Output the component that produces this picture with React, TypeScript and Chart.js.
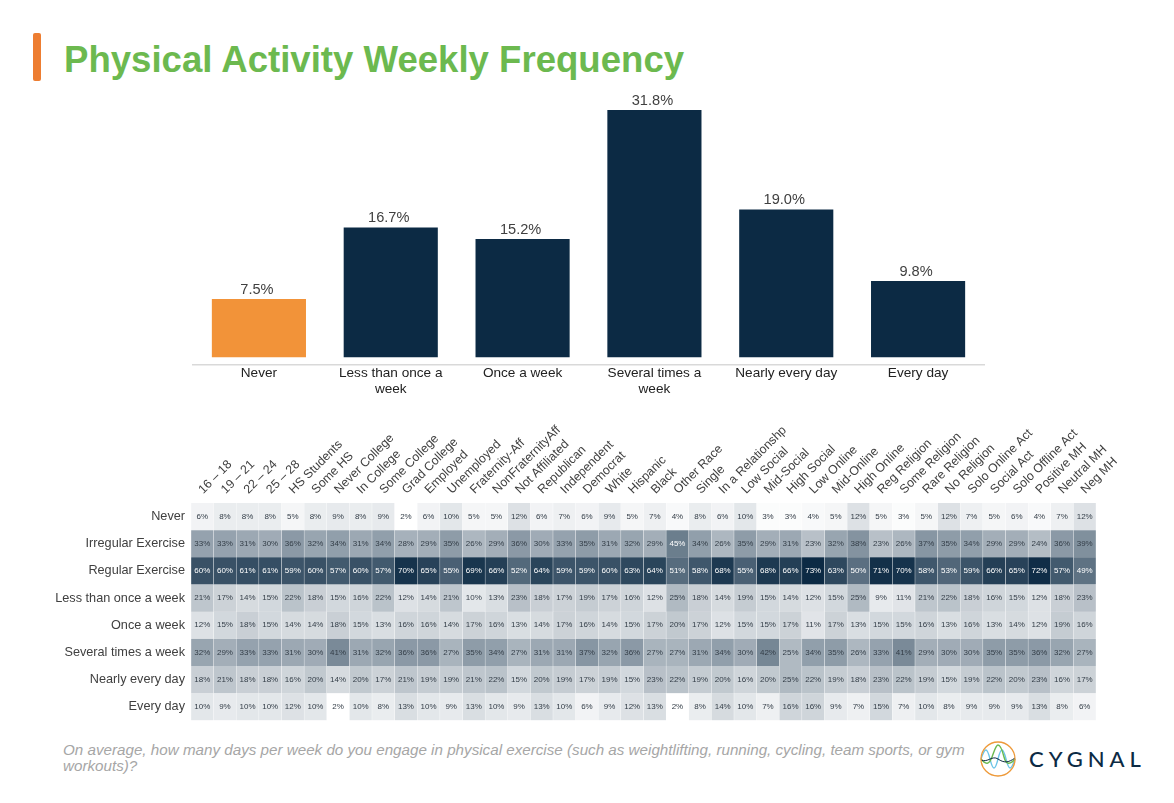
import { useEffect, useRef } from "react";
import Chart from "chart.js/auto";

const FONT = "'Liberation Sans', Arial, sans-serif";
const NAVY = "#0c2a44";

const freqLabels = [
  "Never",
  ["Less than once a", "week"],
  "Once a week",
  ["Several times a", "week"],
  "Nearly every day",
  "Every day",
];
const freqValues = [7.5, 16.7, 15.2, 31.8, 19.0, 9.8];

const columns = [
  "16 – 18", "19 – 21", "22 – 24", "25 – 28", "HS Students", "Some HS", "Never College", "In College",
  "Some College", "Grad College", "Employed", "Unemployed", "Fraternity-Aff", "NonFraternityAff",
  "Not Affiliated", "Republican", "Independent", "Democrat", "White", "Hispanic", "Black", "Other Race",
  "Single", "In a Relationshp", "Low Social", "Mid-Social", "High Social", "Low Online", "Mid-Online",
  "High Online", "Reg Religion", "Some Religion", "Rare Religion", "No Religion", "Solo Online Act",
  "Social Act", "Solo Offline Act", "Positive MH", "Neutral MH", "Neg MH",
];

const rowLabels = [
  "Never", "Irregular Exercise", "Regular Exercise", "Less than once a week",
  "Once a week", "Several times a week", "Nearly every day", "Every day",
];

const never = [6, 8, 8, 8, 5, 8, 9, 8, 9, 2, 6, 10, 5, 5, 12, 6, 7, 6, 9, 5, 7, 4, 8, 6, 10, 3, 3, 4, 5, 12, 5, 3, 5, 12, 7, 5, 6, 4, 7, 12];
const irregular = [33, 33, 31, 30, 36, 32, 34, 31, 34, 28, 29, 35, 26, 29, 36, 30, 33, 35, 31, 32, 29, 45, 34, 26, 35, 29, 31, 23, 32, 38, 23, 26, 37, 35, 34, 29, 29, 24, 36, 39];
const regular = [60, 60, 61, 61, 59, 60, 57, 60, 57, 70, 65, 55, 69, 66, 52, 64, 59, 59, 60, 63, 64, 51, 58, 68, 55, 68, 66, 73, 63, 50, 71, 70, 58, 53, 59, 66, 65, 72, 57, 49];
const lessThanOnce = [21, 17, 14, 15, 22, 18, 15, 16, 22, 12, 14, 21, 10, 13, 23, 18, 17, 19, 17, 16, 12, 25, 18, 14, 19, 15, 14, 12, 15, 25, 9, 11, 21, 22, 18, 16, 15, 12, 18, 23];
const onceWeek = [12, 15, 18, 15, 14, 14, 18, 15, 13, 16, 16, 14, 17, 16, 13, 14, 17, 16, 14, 15, 17, 20, 17, 12, 15, 15, 17, 11, 17, 13, 15, 15, 16, 13, 16, 13, 14, 12, 19, 16];
const severalTimes = [32, 29, 33, 33, 31, 30, 41, 31, 32, 36, 36, 27, 35, 34, 27, 31, 31, 37, 32, 36, 27, 27, 31, 34, 30, 42, 25, 34, 35, 26, 33, 41, 29, 30, 30, 35, 35, 36, 32, 27];
const nearlyEvery = [18, 21, 18, 18, 16, 20, 14, 20, 17, 21, 19, 19, 21, 22, 15, 20, 19, 17, 19, 15, 23, 22, 19, 20, 16, 20, 25, 22, 19, 18, 23, 22, 19, 15, 19, 22, 20, 23, 16, 17];
const everyDay = [10, 9, 10, 10, 12, 10, 2, 10, 8, 13, 10, 9, 13, 10, 9, 13, 10, 6, 9, 12, 13, 2, 8, 14, 10, 7, 16, 16, 9, 7, 15, 7, 10, 8, 9, 9, 9, 13, 8, 6];

const rows = [never, irregular, regular, lessThanOnce, onceWeek, severalTimes, nearlyEvery, everyDay];

function cellColor(v: number) {
  return `rgba(12, 42, 68, ${((v - 2) / 71).toFixed(3)})`;
}

const barLabels = {
  id: "barLabels",
  afterDatasetsDraw(chart: any) {
    const { ctx } = chart;
    ctx.save();
    ctx.font = `14.6px ${FONT}`;
    ctx.fillStyle = "#404040";
    ctx.textAlign = "center";
    ctx.textBaseline = "bottom";
    chart.getDatasetMeta(0).data.forEach((bar: any, i: number) => {
      ctx.fillText(freqValues[i].toFixed(1) + "%", bar.x - 2, bar.y - 2);
    });
    ctx.restore();
  },
};

const cellLabels = {
  id: "cellLabels",
  afterDatasetsDraw(chart: any) {
    const { ctx } = chart;
    ctx.save();
    ctx.font = `8px ${FONT}`;
    ctx.textAlign = "center";
    ctx.textBaseline = "middle";
    rows.forEach((row, r) => {
      chart.getDatasetMeta(r).data.forEach((cell: any, i: number) => {
        ctx.fillStyle = row[i] >= 45 ? "#ffffff" : "#333d47";
        ctx.fillText(row[i] + "%", cell.x, (cell.y + cell.base) / 2);
      });
    });
    ctx.restore();
  },
};

function BarChart() {
  const canvasRef = useRef<HTMLCanvasElement>(null);

  useEffect(() => {
    const ctx = canvasRef.current?.getContext("2d");
    if (!ctx) return;

    const chart = new Chart(ctx, {
      type: "bar",
      data: {
        labels: freqLabels as any,
        datasets: [{
          data: freqValues,
          backgroundColor: freqValues.map((_, i) => (i === 0 ? "#f29339" : NAVY)),
          barPercentage: 0.714,
          categoryPercentage: 1,
        }],
      },
      plugins: [barLabels],
      options: {
        animation: false,
        responsive: false,
        layout: { padding: { left: 193, right: 190, top: 5, bottom: 0 } },
        plugins: { legend: { display: false }, tooltip: { enabled: false } },
        scales: {
          x: {
            grid: { display: false, drawTicks: false },
            border: { color: "#d9d9d9", width: 1.5 },
            ticks: { color: "#222222", font: { family: FONT, size: 13.6 }, padding: 0, maxRotation: 0, autoSkip: false },
            afterFit(axis: any) { axis.height = 45.3; },
          },
          y: { display: false, min: -0.95, max: 35 },
        },
      },
    });

    return () => chart.destroy();
  }, []);

  return <canvas ref={canvasRef} width={1174} height={330} style={{ position: "absolute", left: 0, top: 80 }} />;
}

function Heatmap() {
  const canvasRef = useRef<HTMLCanvasElement>(null);

  useEffect(() => {
    const ctx = canvasRef.current?.getContext("2d");
    if (!ctx) return;

    const chart = new Chart(ctx, {
      type: "bar",
      data: {
        labels: columns,
        datasets: rows.map((row, r) => ({
          label: rowLabels[r],
          data: row.map(() => [r, r + 1]) as any,
          backgroundColor: row.map(cellColor),
          borderColor: "rgba(255, 255, 255, 0.3)",
          borderWidth: { left: 0.5, right: 0.5, top: 0, bottom: 0 },
          borderSkipped: false,
          barPercentage: 1,
          categoryPercentage: 1,
        })),
      },
      plugins: [cellLabels],
      options: {
        animation: false,
        responsive: false,
        layout: { padding: { left: 0, right: 78, top: 0, bottom: 0 } },
        plugins: { legend: { display: false }, tooltip: { enabled: false } },
        scales: {
          x: {
            position: "top",
            stacked: true,
            grid: { display: false, drawTicks: false },
            border: { display: false },
            ticks: { color: "#404040", font: { family: FONT, size: 12.4 }, padding: 6, labelOffset: 9, minRotation: 45, maxRotation: 45, autoSkip: false },
            afterFit(axis: any) { axis.height = 103; },
          },
          y: {
            min: 0,
            max: 8,
            reverse: true,
            grid: { display: false, drawTicks: false },
            border: { display: false },
            ticks: {
              color: "#404040",
              font: { family: FONT, size: 12.7 },
              padding: 6,
              autoSkip: false,
              callback: (v: any) => rowLabels[Number(v) - 0.5],
            },
            afterBuildTicks(axis: any) {
              axis.ticks = rowLabels.map((_, i) => ({ value: i + 0.5 }));
            },
            afterFit(axis: any) { axis.width = 191; },
          },
        },
      },
    });

    return () => chart.destroy();
  }, []);

  return <canvas ref={canvasRef} width={1174} height={334} style={{ position: "absolute", left: 0, top: 400 }} />;
}

function Logo() {
  return (
    <svg width={40} height={40} viewBox="0 0 40 40" style={{ position: "absolute", left: 978, top: 739 }}>
      <path d="M3 20 C7 8 9 8 12 20 S17 32 20 20 S25 8 28 20 S33 32 37 20" fill="none" stroke="#6cc5e8" strokeWidth={1.4} />
      <path d="M3 20 C8 26 11 26 14 18 S18 6 20 6 S24 10 26 18 S32 26 37 20" fill="none" stroke="#6cb94f" strokeWidth={1.4} />
      <path d="M3 21 C10 24 14 16 20 20 S30 24 37 19" fill="none" stroke="#0c2a44" strokeWidth={1} />
      <circle cx={20} cy={20} r={17} fill="none" stroke="#ee9a3a" strokeWidth={1.3} />
    </svg>
  );
}

export default function App() {
  return (
    <div style={{ position: "absolute", left: 0, top: 0, width: 1174, height: 803, overflow: "hidden", background: "#fff" }}>
      <div style={{ position: "absolute", left: 33, top: 33, width: 8, height: 48, borderRadius: 2, background: "#ed7d31" }} />
      <div style={{ position: "absolute", left: 64, top: 39, font: `bold 36.6px ${FONT}`, lineHeight: "42px", color: "#6cb94f", whiteSpace: "nowrap" }}>
        Physical Activity Weekly Frequency
      </div>
      <BarChart />
      <Heatmap />
      <div style={{ position: "absolute", left: 63, top: 742, width: 915, font: `italic 15.2px ${FONT}`, lineHeight: "16px", color: "#a6a6a6" }}>
        On average, how many days per week do you engage in physical exercise (such as weightlifting, running, cycling, team sports, or gym workouts)?
      </div>
      <Logo />
      <div style={{ position: "absolute", left: 1029, top: 746, font: `500 22px Lato, ${FONT}`, lineHeight: "26px", letterSpacing: 5, color: NAVY, whiteSpace: "nowrap" }}>
        CYGNAL
      </div>
    </div>
  );
}
